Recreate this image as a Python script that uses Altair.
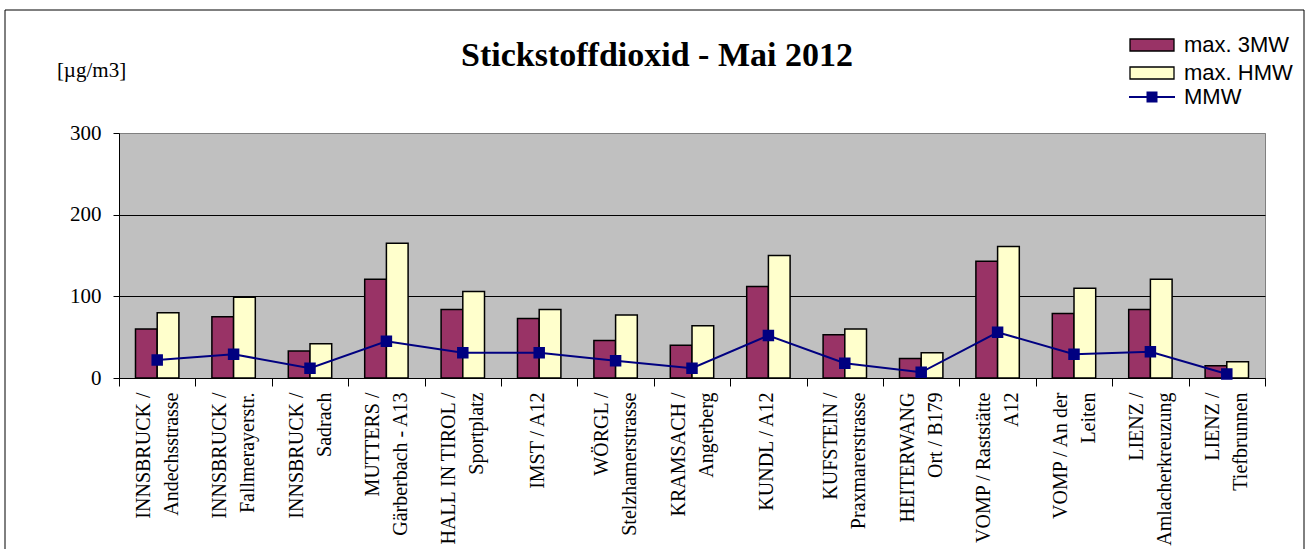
import altair as alt
import pandas as pd

# ---------------- data ----------------
stations = [
    "INNSBRUCK /\nAndechsstrasse",
    "INNSBRUCK /\nFallmerayerstr.",
    "INNSBRUCK /\nSadrach",
    "MUTTERS /\nGärberbach - A13",
    "HALL IN TIROL /\nSportplatz",
    "IMST / A12",
    "WÖRGL /\nStelzhamerstrasse",
    "KRAMSACH /\nAngerberg",
    "KUNDL / A12",
    "KUFSTEIN /\nPraxmarerstrasse",
    "HEITERWANG\nOrt / B179",
    "VOMP / Raststätte\nA12",
    "VOMP / An der\nLeiten",
    "LIENZ /\nAmlacherkreuzung",
    "LIENZ /\nTiefbrunnen",
]
max_3mw = [60, 75, 33, 121, 84, 73, 46, 40, 112, 53, 24, 143, 79, 84, 15]
max_hmw = [80, 99, 42, 165, 106, 84, 77, 64, 150, 60, 31, 161, 110, 121, 20]
mmw = [22, 29, 12, 45, 31, 31, 21, 12, 52, 18, 7, 56, 29, 32, 5]

bar_series = ["max. 3MW", "max. HMW"]
bar_colors = ["#993366", "#FFFFCC"]
line_series = ["MMW"]
line_colors = ["#000080"]
y_ticks = [0, 100, 200, 300]
title_text = "Stickstoffdioxid - Mai 2012"
unit_text = "[µg/m3]"

bars_df = pd.DataFrame(
    [{"station": s, "series": bar_series[0], "value": v} for s, v in zip(stations, max_3mw)]
    + [{"station": s, "series": bar_series[1], "value": v} for s, v in zip(stations, max_hmw)]
)
line_df = pd.DataFrame({"station": stations, "series": line_series[0], "value": mmw})

# ---------------- layout ----------------
W, H = 1146, 245
SERIF = "Liberation Serif"
SANS = "Liberation Sans"

x_axis = alt.Axis(
    title=None,
    tickBand="extent",
    domainColor="black",
    domainWidth=1,
    tickColor="black",
    tickSize=8,
    tickWidth=1,
    labelAngle=270,
    labelAlign="right",
    labelBaseline="middle",
    labelPadding=6,
    labelOffset={"condition": {"test": "indexof(datum.label, '\\n') >= 0", "value": -14}, "value": -2},
    labelFont=SERIF,
    labelFontSize=20,
    labelFontWeight="normal",
    labelColor="black",
    labelLineHeight=28,
    labelExpr="split(datum.label, '\\n')",
    labelOverlap=False,
    labelLimit=400,
    grid=False,
)

y_axis = alt.Axis(
    values=y_ticks,
    title=unit_text,
    titleAngle=0,
    titleX=-28,
    titleY=-57,
    titleAlign="center",
    titleBaseline="alphabetic",
    titleFont=SERIF,
    titleFontSize=21,
    titleFontWeight="normal",
    titleColor="black",
    domainColor="black",
    tickColor="black",
    tickSize=6,
    labelFont=SERIF,
    labelFontSize=21,
    labelFontWeight="normal",
    labelColor="black",
    labelPadding=12,
    grid=True,
    gridColor={"condition": {"test": "datum.value === 300", "value": "#808080"}, "value": "black"},
    gridWidth=1,
)

x_scale = alt.Scale(paddingInner=0, paddingOuter=0)
y_scale = alt.Scale(domain=[0, 300], nice=False, zero=True)

bar_legend = alt.Legend(
    title=None,
    orient="none",
    legendX=1022,
    legendY=-99,
    padding=0,
    symbolSize=400,
    rowPadding=6,
    labelOffset=21,
    labelFont=SANS,
    labelFontSize=22,
    labelColor="black",
    symbolOpacity=1,
    symbolType="M-2.2,-0.6H2.2V0.6H-2.2Z",
    symbolStrokeColor="black",
    symbolStrokeWidth=1.3,
)

line_legend = alt.Legend(
    title=None,
    orient="none",
    legendX=1022,
    legendY=-47,
    padding=0,
    symbolSize=400,
    labelOffset=21,
    labelFont=SANS,
    labelFontSize=22,
    labelColor="black",
    symbolOpacity=1,
    symbolType="M-2.3,0H2.3M-0.45,-0.45H0.45V0.45H-0.45Z",
    symbolFillColor="#000080",
    symbolStrokeColor="#000080",
    symbolStrokeWidth=2,
)

bars = (
    alt.Chart(bars_df)
    .mark_bar(stroke="black", strokeWidth=1.5)
    .encode(
        x=alt.X("station:N", sort=stations, scale=x_scale, axis=x_axis),
        xOffset=alt.XOffset(
            "series:N",
            sort=bar_series,
            scale=alt.Scale(paddingInner=0, paddingOuter=0.76),
        ),
        y=alt.Y("value:Q", scale=y_scale, axis=y_axis),
        fill=alt.Fill(
            "series:N",
            scale=alt.Scale(domain=bar_series, range=bar_colors),
            legend=bar_legend,
        ),
    )
)

line = (
    alt.Chart(line_df)
    .mark_line(
        strokeWidth=2,
        point=alt.OverlayMarkDef(shape="square", size=90, filled=True, fill="#000080", opacity=1),
    )
    .encode(
        x=alt.X("station:N", sort=stations, scale=x_scale, axis=x_axis),
        y=alt.Y("value:Q", scale=y_scale, axis=y_axis),
        stroke=alt.Stroke(
            "series:N",
            scale=alt.Scale(domain=line_series, range=line_colors),
            legend=line_legend,
        ),
    )
)

deco = alt.Data(values=[{"k": 1}])

title = (
    alt.Chart(deco)
    .mark_text(
        text=title_text,
        font=SERIF,
        fontSize=34,
        fontWeight="bold",
        color="black",
        align="center",
        baseline="alphabetic",
    )
    .encode(x=alt.value(538), y=alt.value(-67))
)

border = (
    alt.Chart(deco)
    .mark_rect(fillOpacity=0, stroke="black", strokeWidth=1)
    .encode(x=alt.value(-114), x2=alt.value(1185), y=alt.value(-123), y2=alt.value(460))
)

chart = (
    alt.layer(border, bars, line, title)
    .resolve_scale(fill="independent", stroke="independent")
    .properties(
        width=W,
        height=H,
        autosize=alt.AutoSizeParams(type="none"),
        padding={"left": 119, "top": 133, "right": 1309 - 119 - W, "bottom": 549 - 133 - H},
        background="white",
    )
    .configure_view(fill="#C0C0C0", stroke="#808080", strokeWidth=1)
)

chart.save("out.html", embed_options={"renderer": "svg", "actions": False})
